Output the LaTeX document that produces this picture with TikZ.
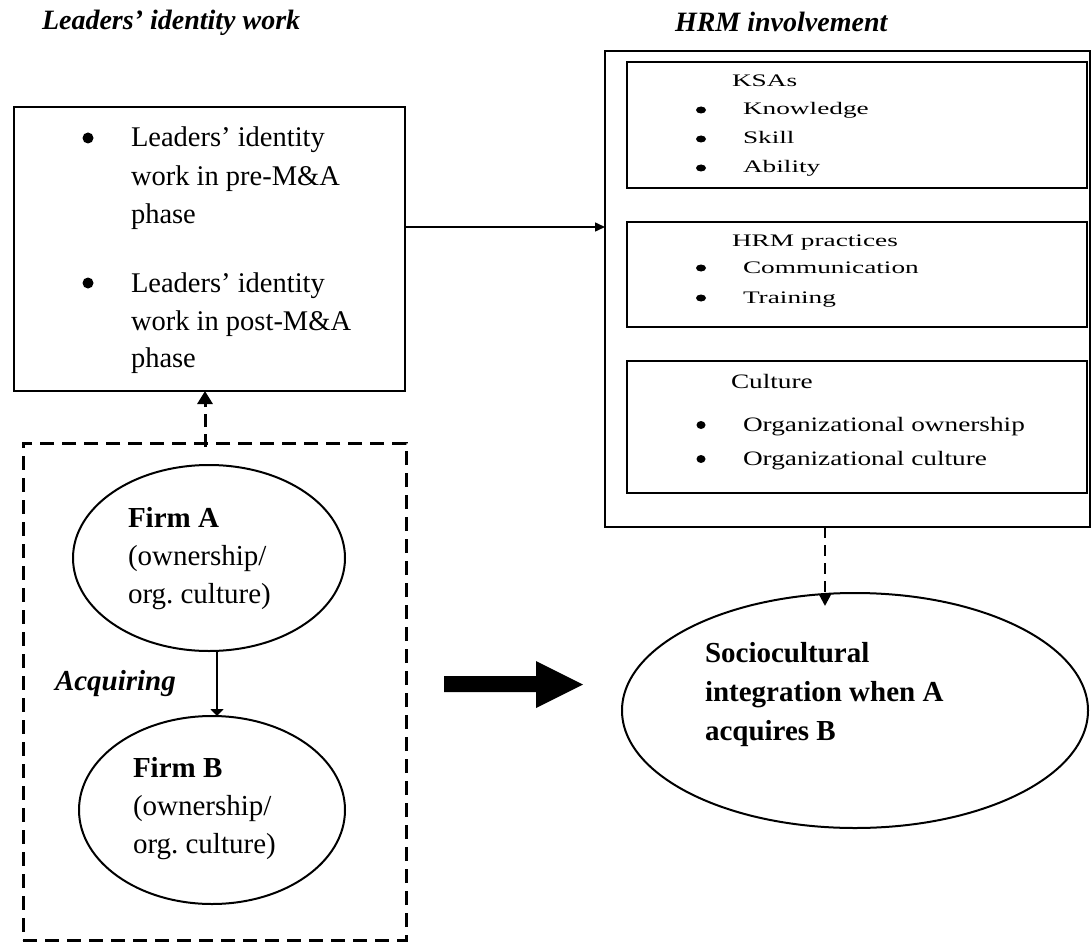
\documentclass[tikz,border=0pt]{standalone}
\usepackage{fontspec}
\setmainfont{Liberation Serif}
\newfontfamily\ksafont[FakeStretch=1.55]{Liberation Serif}
\newfontfamily\culfont[FakeStretch=1.33]{Liberation Serif}
\usetikzlibrary{arrows.meta,shapes.geometric,calc}
\begin{document}
\begin{tikzpicture}[x=1pt,y=-1pt,
  box/.style={draw, line width=2pt, inner sep=0pt, outer sep=0pt},
  ell/.style={draw, ellipse, line width=2pt, inner sep=0pt, outer sep=0pt},
  txt/.style={inner sep=0pt, outer sep=0pt, anchor=base west},
  title/.style={txt, font=\fontsize{28}{34}\selectfont\bfseries\itshape},
  ltext/.style={txt, font=\fontsize{28.5}{34}\selectfont},
  ftext/.style={txt, font=\fontsize{29}{35}\selectfont},
  btext/.style={txt, font=\fontsize{29}{35}\selectfont\bfseries},
  itext/.style={txt, font=\fontsize{29}{35}\selectfont\bfseries\itshape},
  ksa/.style={txt, font=\ksafont\fontsize{17.6}{21}\selectfont},
  cul/.style={txt, font=\culfont\fontsize{20.5}{24}\selectfont},
  lbul/.style={circle, fill, inner sep=0pt, minimum size=11pt},
  kbul/.style={ellipse, fill, inner sep=0pt, minimum width=10pt, minimum height=7pt},
  cbul/.style={ellipse, fill, inner sep=0pt, minimum width=9pt, minimum height=8pt},
  solidarrow/.style={line width=1.5pt, -{Triangle[length=10pt,width=9pt]}},
  dasharrow/.style={line width=3pt, dash pattern=on 13pt off 7pt, -{Triangle[length=13pt,width=15pt]}}
]
\useasboundingbox (0,0) rectangle (1092,944);

% titles
\node[title] (t1) at (42,30) {Leaders’ identity work};
\node[title] (t2) at (675,32) {HRM involvement};

% left box
\node[box, minimum width=391pt, minimum height=284pt] (lbox) at (209.5,249) {};
\node[lbul] (lb1) at (88,138) {};
\node[ltext] (l1) at (131,147) {Leaders’ identity};
\node[ltext] (l2) at (131,186) {work in pre-M\&A};
\node[ltext] (l3) at (131,223) {phase};
\node[lbul] (lb2) at (88,283) {};
\node[ltext] (l4) at (131,292) {Leaders’ identity};
\node[ltext] (l5) at (131,330) {work in post-M\&A};
\node[ltext] (l6) at (131,367) {phase};

% HRM box
\node[box, minimum width=485pt, minimum height=476pt] (hrm) at (847.5,289) {};
\node[box, minimum width=460pt, minimum height=126pt] (b1) at (857,125) {};
\node[box, minimum width=460pt, minimum height=105pt] (b2) at (857,274.5) {};
\node[box, minimum width=460pt, minimum height=132pt] (b3) at (857,427) {};

\node[ksa] (k0) at (732,87) {KSAs};
\node[kbul] (kb1) at (701,110) {};
\node[ksa] (k1) at (743,115) {Knowledge};
\node[kbul] (kb2) at (701,139) {};
\node[ksa] (k2) at (743,144) {Skill};
\node[kbul] (kb3) at (701,168) {};
\node[ksa] (k3) at (743,173) {Ability};

\node[ksa] (h0) at (732,247) {HRM practices};
\node[kbul] (hb1) at (701,268) {};
\node[ksa] (h1) at (743,273) {Communication};
\node[kbul] (hb2) at (701,298) {};
\node[ksa] (h2) at (743,303) {Training};

\node[cul] (c0) at (731,388) {Culture};
\node[cbul] (cb1) at (701,425) {};
\node[cul] (c1) at (743,431) {Organizational ownership};
\node[cbul] (cb2) at (701,459) {};
\node[cul] (c2) at (743,465) {Organizational culture};

% dashed group
\node[draw, line width=3pt, dash pattern=on 14pt off 8pt, inner sep=0pt, outer sep=0pt,
      minimum width=383pt, minimum height=497pt] (dbox) at (214.5,691.5) {};
\node[ell, minimum width=272pt, minimum height=186pt] (fa) at (209,558) {};
\node[ell, minimum width=266pt, minimum height=188pt] (fb) at (212,810) {};
\node[btext] (fa1) at (128,527) {Firm A};
\node[ftext] (fa2) at (128,565) {(ownership/};
\node[ftext] (fa3) at (128,603) {org.\ culture)};
\node[btext] (fb1) at (133,777) {Firm B};
\node[ftext] (fb2) at (133,815) {(ownership/};
\node[ftext] (fb3) at (133,853) {org.\ culture)};
\node[itext] (acq) at (55,690) {Acquiring};

% outcome
\node[ell, minimum width=466pt, minimum height=235pt] (soc) at (855,710.5) {};
\node[btext] (s1) at (705,662) {Sociocultural};
\node[btext] (s2) at (705,701) {integration when A};
\node[btext] (s3) at (705,740) {acquires B};

% connectors
\coordinate (yA) at (0,227);
\draw[solidarrow] (lbox.east |- yA) -- (hrm.west |- yA);
\coordinate (xU) at (205,0);
\draw[dasharrow] ($(dbox.north -| xU)+(0,4)$) -- (lbox.south -| xU);
\coordinate (xAB) at (217,0);
\draw[line width=2pt, -{Triangle[length=7pt,width=13pt]}] (fa.south -| xAB) -- (fb.north -| xAB);
\coordinate (xD) at (825,0);
\draw[line width=2.5pt, dash pattern=on 11pt off 7pt, -{Triangle[length=12pt,width=12pt]}]
  (hrm.south -| xD) -- ($(soc.north -| xD)+(0,13)$);

% big arrow
\fill (444,676) -- (536,676) -- (536,661) -- (583,684.5) -- (536,708) -- (536,692) -- (444,692) -- cycle;
\end{tikzpicture}
\end{document}
